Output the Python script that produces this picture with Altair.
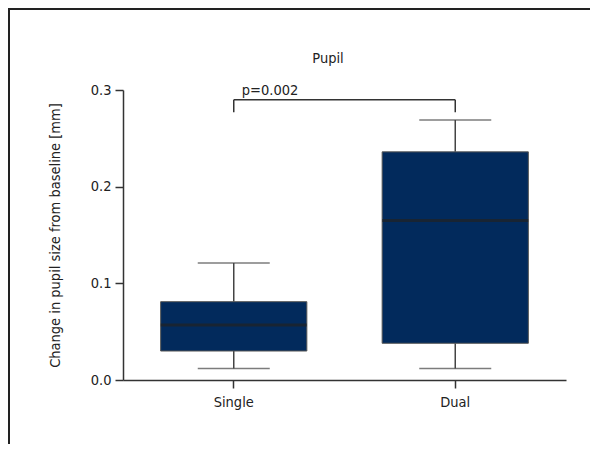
import altair as alt
import pandas as pd

groups = ["Single", "Dual"]
whisker_low = [0.012, 0.012]
q1 = [0.030, 0.038]
median = [0.057, 0.165]
q3 = [0.081, 0.236]
whisker_high = [0.121, 0.269]

bracket_y = 0.290
bracket_drop = 0.277
p_label = "p=0.002"
title_text = "Pupil"

FONT = "DejaVu Sans Condensed, DejaVu Sans, sans-serif"
FS = 14.5
BOX = "#022a5c"
LINE = "#444444"

df = pd.DataFrame({
    "group": groups, "lo": whisker_low, "q1": q1, "med": median,
    "q3": q3, "hi": whisker_high,
})

xs = alt.Scale(domain=groups, paddingInner=0.34, paddingOuter=0.17)
ys = alt.Scale(domain=[0, 0.3], nice=False, zero=True)

X = alt.X("group:N", scale=xs, sort=groups,
          axis=alt.Axis(title=None, labelAngle=0, tickSize=8, labelPadding=7,
                        labelFontSize=FS, labelColor="#222", domainColor="#333",
                        tickColor="#333", domainWidth=1.5, tickWidth=1.5))
Yaxis = alt.Axis(title="Change in pupil size from baseline [mm]", values=[0, 0.1, 0.2, 0.3],
                 format=".1f", tickSize=8, labelPadding=4, labelFontSize=FS,
                 labelColor="#222", titleFontSize=FS, titleFontWeight="normal",
                 titleColor="#222", titlePadding=28, domainColor="#333",
                 tickColor="#333", domainWidth=1.5, tickWidth=1.5, grid=False)

base = alt.Chart(df)

whisk_up = base.mark_rule(color=LINE, strokeWidth=1.5).encode(
    x=X, y=alt.Y("q3:Q", scale=ys, axis=Yaxis), y2="hi:Q")
whisk_dn = base.mark_rule(color=LINE, strokeWidth=1.5).encode(
    x=X, y=alt.Y("lo:Q", scale=ys), y2="q1:Q")
cap_hi = base.mark_tick(color=LINE, thickness=1.5, size=72, orient="horizontal").encode(
    x=X, y=alt.Y("hi:Q", scale=ys))
cap_lo = base.mark_tick(color=LINE, thickness=1.5, size=72, orient="horizontal").encode(
    x=X, y=alt.Y("lo:Q", scale=ys))
box = base.mark_bar(color=BOX, stroke="#555555", strokeWidth=1).encode(
    x=X, y=alt.Y("q1:Q", scale=ys), y2="q3:Q")
med = base.mark_tick(color="#222222", thickness=3, size=146, orient="horizontal").encode(
    x=X, y=alt.Y("med:Q", scale=ys))

bdf = pd.DataFrame({"g1": [groups[0]], "g2": [groups[1]], "y": [bracket_y],
                    "yd": [bracket_drop], "label": [p_label]})
bvdf = pd.DataFrame({"group": groups, "y": [bracket_y, bracket_y],
                     "yd": [bracket_drop, bracket_drop]})
bh = alt.Chart(bdf).mark_rule(color="#333", strokeWidth=1.5).encode(
    x=alt.X("g1:N", scale=xs), x2="g2:N", y=alt.Y("y:Q", scale=ys))
bv = alt.Chart(bvdf).mark_rule(color="#333", strokeWidth=1.5).encode(
    x=alt.X("group:N", scale=xs), y=alt.Y("y:Q", scale=ys), y2="yd:Q")
bt = alt.Chart(bdf).mark_text(align="left", baseline="bottom", dx=8, dy=-2,
                              fontSize=FS, font=FONT, color="#222").encode(
    x=alt.X("g1:N", scale=xs), y=alt.Y("y:Q", scale=ys), text="label:N")

tdf = pd.DataFrame({"t": [title_text]})
title = alt.Chart(tdf).mark_text(align="center", baseline="alphabetic", fontSize=FS,
                                 font=FONT, color="#222").encode(
    x=alt.value(205), y=alt.value(-27), text="t:N")

border = alt.Chart(pd.DataFrame({"k": [0]})).mark_rect(
    fill=None, stroke="#222", strokeWidth=2).encode(
    x=alt.value(-114), x2=alt.value(700), y=alt.value(-81), y2=alt.value(600))

chart = alt.layer(whisk_up, whisk_dn, cap_hi, cap_lo, box, med, bh, bv, bt, title, border).properties(
    width=443, height=290,
    autosize=alt.AutoSizeParams(type="none"),
    padding={"left": 115, "top": 82, "right": 24, "bottom": 64},
).configure(font=FONT, view=alt.ViewConfig(stroke=None))

chart.save("out.html", embed_options={"renderer": "svg", "actions": False})
